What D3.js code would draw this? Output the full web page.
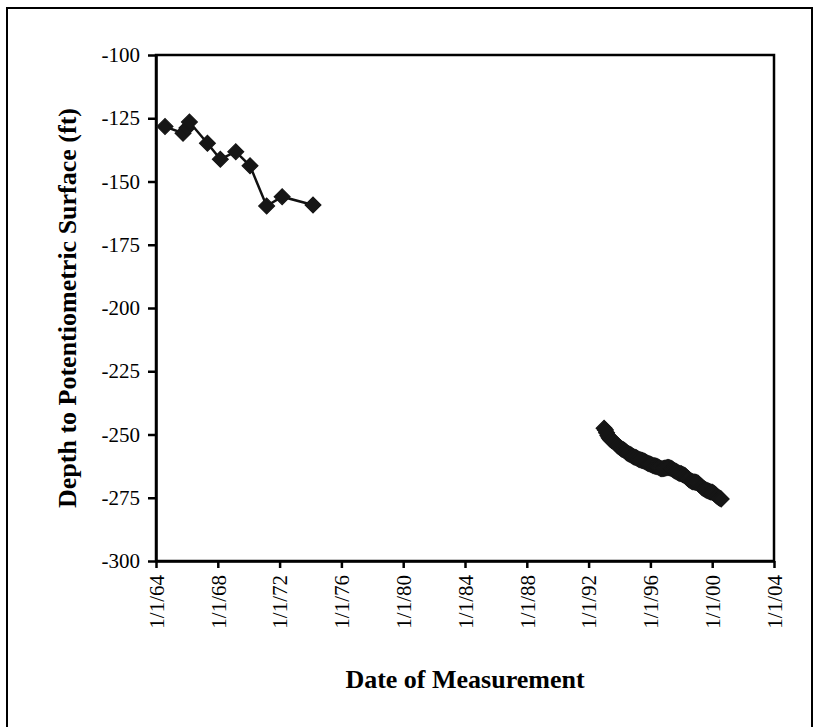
<!DOCTYPE html>
<html>
<head>
<meta charset="utf-8">
<script src="https://cdn.jsdelivr.net/npm/d3@7/dist/d3.min.js"></script>
<style>
  body { margin: 0; background: #fff; }
  svg text { font-family: "Liberation Serif", "Times New Roman", serif; fill: #000; }
</style>
</head>
<body>
<svg id="chart" width="815" height="727"></svg>
<script>
// 1964-1974 measurements
var earlyDates = ["1964-08", "1965-10", "1966-01", "1966-03", "1967-05", "1968-03",
    "1969-03", "1970-02", "1971-03", "1972-03", "1974-03"];
var earlyDepths = [-128.3, -130.9, -128.9, -126.5, -134.9, -141.2, -138.2, -143.8, -159.7, -156.0, -159.3];

// 1993-2000 monthly measurements
var recentDates = [
    "1993-01", "1993-02", "1993-03", "1993-04", "1993-05", "1993-06", "1993-07", "1993-08", "1993-09", "1993-10", "1993-11", "1993-12",
    "1994-01", "1994-02", "1994-03", "1994-04", "1994-05", "1994-06", "1994-07", "1994-08", "1994-09", "1994-10", "1994-11", "1994-12",
    "1995-01", "1995-02", "1995-03", "1995-04", "1995-05", "1995-06", "1995-07", "1995-08", "1995-09", "1995-10", "1995-11", "1995-12",
    "1996-01", "1996-02", "1996-03", "1996-04", "1996-05", "1996-06", "1996-07", "1996-08", "1996-09", "1996-10", "1996-11", "1996-12",
    "1997-01", "1997-02", "1997-03", "1997-04", "1997-05", "1997-06", "1997-07", "1997-08", "1997-09", "1997-10", "1997-11", "1997-12",
    "1998-01", "1998-02", "1998-03", "1998-04", "1998-05", "1998-06", "1998-07", "1998-08", "1998-09", "1998-10", "1998-11", "1998-12",
    "1999-01", "1999-02", "1999-03", "1999-04", "1999-05", "1999-06", "1999-07", "1999-08", "1999-09", "1999-10", "1999-11", "1999-12",
    "2000-01", "2000-02", "2000-03", "2000-04", "2000-05", "2000-06", "2000-07", "2000-08"];
var recentDepths = [
    -247.5, -248.2, -249.3, -250.4, -251.3, -252.0, -252.4, -252.6, -253.0, -253.6, -254.1, -254.6,
    -255.0, -255.4, -255.8, -256.0, -256.3, -256.8, -257.3, -257.6, -257.8, -258.1, -258.5, -258.8,
    -259.0, -259.2, -259.5, -259.8, -260.0, -260.2, -260.3, -260.5, -260.8, -261.1, -261.4, -261.6,
    -261.8, -262.0, -262.3, -262.4, -262.5, -262.6, -262.8, -263.1, -263.4, -263.5, -263.4, -263.3,
    -263.2, -263.0, -263.0, -263.1, -263.3, -263.6, -264.0, -264.3, -264.6, -264.9, -265.2, -265.4,
    -265.5, -265.8, -266.0, -266.3, -266.8, -267.3, -267.8, -268.2, -268.5, -268.7, -268.8, -268.9,
    -269.0, -269.3, -269.8, -270.3, -270.8, -271.2, -271.5, -271.8, -272.1, -272.3, -272.5, -272.7,
    -272.8, -273.1, -273.5, -274.0, -274.5, -274.9, -275.2, -275.5];

var xTickYears = [1964, 1968, 1972, 1976, 1980, 1984, 1988, 1992, 1996, 2000, 2004];
var yTicks = [-100, -125, -150, -175, -200, -225, -250, -275, -300];

var parseMonth = d3.timeParse("%Y-%m");
var fmtTick = d3.timeFormat("%-m/%-d/%y");

// 绘图区
var plot = { left: 156, top: 55, right: 774, bottom: 561 };

var svg = d3.select("#chart");

// 外框
svg.append("rect")
    .attr("x", 7).attr("y", 8)
    .attr("width", 805).attr("height", 740)
    .attr("fill", "none")
    .attr("stroke", "#000")
    .attr("stroke-width", 2);

var x = d3.scaleTime()
    .domain([new Date(1964, 0, 1), new Date(2004, 0, 1)])
    .range([plot.left, plot.right]);
var y = d3.scaleLinear()
    .domain([-300, -100])
    .range([plot.bottom, plot.top]);

// 绘图区边框
svg.append("rect")
    .attr("x", plot.left).attr("y", plot.top)
    .attr("width", plot.right - plot.left)
    .attr("height", plot.bottom - plot.top)
    .attr("fill", "none")
    .attr("stroke", "#000")
    .attr("stroke-width", 2.5);

// x轴
var xAxis = d3.axisBottom(x)
    .tickValues(xTickYears.map(function (yr) { return new Date(yr, 0, 1); }))
    .tickFormat(fmtTick)
    .tickSize(7)
    .tickSizeOuter(0);
var gx = svg.append("g")
    .attr("transform", "translate(0," + plot.bottom + ")")
    .call(xAxis);
gx.select(".domain").attr("stroke-width", 2.5);
gx.selectAll(".tick line").attr("stroke-width", 2.5);
gx.selectAll(".tick text")
    .attr("font-size", 21)
    .attr("transform", "rotate(-90)")
    .attr("text-anchor", "end")
    .attr("x", -14)
    .attr("y", 0)
    .attr("dy", "0.35em");

// y轴 (普通连字符作负号)
var yAxis = d3.axisLeft(y)
    .tickValues(yTicks)
    .tickFormat(function (d) { return String(d); })
    .tickSize(8)
    .tickPadding(8)
    .tickSizeOuter(0);
var gy = svg.append("g")
    .attr("transform", "translate(" + plot.left + ",0)")
    .call(yAxis);
gy.select(".domain").attr("stroke-width", 2.5);
gy.selectAll(".tick line").attr("stroke-width", 2.5);
gy.selectAll(".tick text").attr("font-size", 21);

// 轴标题
svg.append("text")
    .attr("transform", "translate(76," + ((plot.top + plot.bottom) / 2) + ") rotate(-90)")
    .attr("text-anchor", "middle")
    .attr("font-size", 26)
    .attr("font-weight", "bold")
    .text("Depth to Potentiometric Surface (ft)");

svg.append("text")
    .attr("x", (plot.left + plot.right) / 2)
    .attr("y", 688)
    .attr("text-anchor", "middle")
    .attr("font-size", 26)
    .attr("font-weight", "bold")
    .text("Date of Measurement");

// 数据系列
function toPoints(dates, depths) {
    return dates.map(function (d, i) { return { date: parseMonth(d), depth: depths[i] }; });
}
var series = [toPoints(earlyDates, earlyDepths), toPoints(recentDates, recentDepths)];

var line = d3.line()
    .x(function (d) { return x(d.date); })
    .y(function (d) { return y(d.depth); });

var diamond = d3.symbol().type(d3.symbolSquare).size(125);

series.forEach(function (pts) {
    svg.append("path")
        .datum(pts)
        .attr("d", line)
        .attr("fill", "none")
        .attr("stroke", "#111")
        .attr("stroke-width", 2.5);
    svg.append("g").selectAll("path")
        .data(pts)
        .enter()
        .append("path")
        .attr("d", diamond)
        .attr("transform", function (d) {
            return "translate(" + x(d.date) + "," + y(d.depth) + ") rotate(45)";
        })
        .attr("fill", "#161616")
        .attr("stroke", "#161616")
        .attr("stroke-width", 1.2);
});
</script>
</body>
</html>
